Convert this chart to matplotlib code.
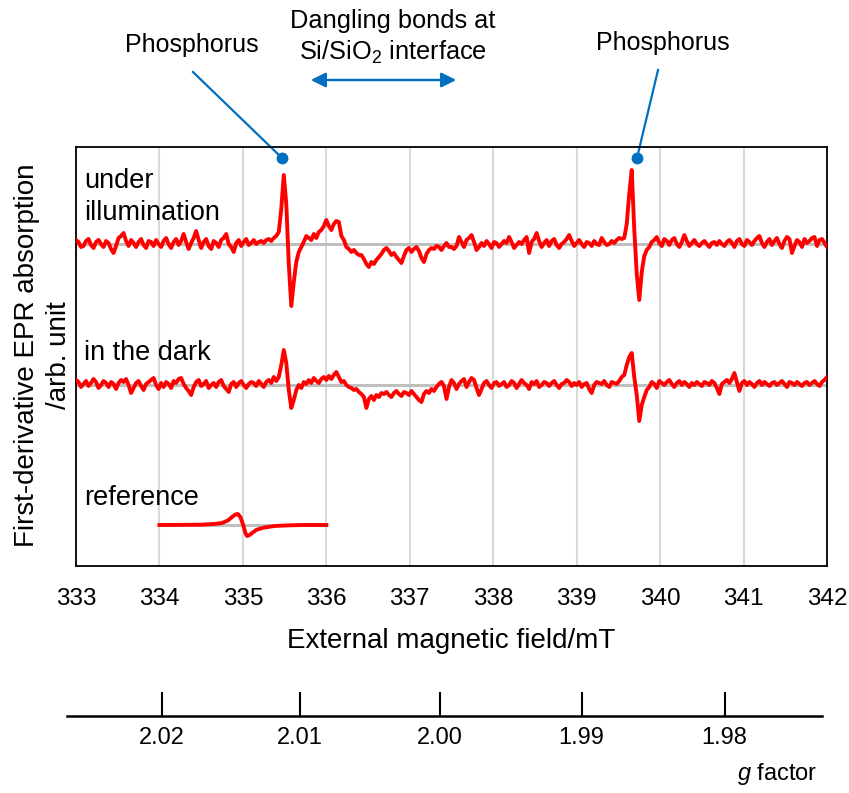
import numpy as np
import matplotlib.pyplot as plt
from matplotlib.patches import FancyArrowPatch

plt.rcParams['font.family'] = ['Liberation Sans', 'DejaVu Sans']
plt.rcParams['mathtext.fontset'] = 'custom'
plt.rcParams['mathtext.rm'] = 'Liberation Sans'
plt.rcParams['mathtext.it'] = 'Liberation Sans:italic'

# field grid of the spectra (mT), 0.03 mT steps
field = np.linspace(333, 342, 301)

# first-derivative signal, under illumination (arb. unit, baseline = 0)
illum = [
    4, 2, -3, -2, 3, 5, -1, -4, 2, 4, 0, -3, 3, 1, -5, -9, -2, 6, 8, 11,
    3, -2, 4, 1, -3, 2, 5, -1, -4, 3, 2, -2, 4, 0, -3, 3, 6, 0, -4, 2,
    5, -1, 3, 10, 2, -5, 1, 6, 13, 4, -4, 2, 5, -2, -5, 3, 1, -3, 4, 6,
    10, 0, -3, -8, 1, 4, -2, 2, 5, -1, 1, 4, 0, 2, 3, 1, 4, 5, 3, 6,
    8, 12, 35, 69, 40, -20, -62, -38, -18, -8, -3, 2, 8, 6, 4, 10, 6, 12, 14, 18,
    24, 18, 14, 20, 23, 22, 8, 4, -3, -5, -8, -6, -9, -11, -11, -15, -20, -23, -18, -20,
    -16, -13, -10, -6, -4, -7, -11, -9, -13, -16, -19, -12, -6, -4, -8, -5, -3, -7, -14, -18,
    -10, -6, -4, -5, -2, -3, -6, -2, 1, -3, -3, -5, -2, 7, 2, -3, 4, 6, 9, 2,
    -6, -3, 1, -2, 3, 0, -4, 2, 1, -3, 0, 3, 1, 7, 2, -4, -1, 2, 0, 4,
    7, -9, 2, 5, 11, 3, -3, 1, 4, -2, 3, 5, -1, -4, 0, 2, 5, 9, 3, -2,
    1, 4, 0, -3, 2, 1, -2, 3, 0, -1, 6, 2, -1, 0, 3, 1, 4, 6, 5, 6,
    20, 50, 74, 15, -30, -56, -28, -12, -6, -3, 2, 4, 7, 1, -2, 5, 3, -1, 4, 6,
    0, -3, 2, 9, 3, -2, 1, 4, 0, -2, 1, 3, 0, -3, 1, 2, -1, 3, 0, -2,
    2, 4, 1, -3, 3, 5, 0, -2, 4, 2, -1, 3, 6, 8, 1, -3, 2, 5, -1, 3,
    6, 0, -4, 3, 7, 5, -9, -2, 4, 2, -3, 5, 1, 3, 6, 7, -2, 4, 5, 1,
    -3,
]

# in the dark
dark = [
    5, 3, -2, 1, 4, -1, 2, 6, 3, -3, 0, 4, 2, -2, 3, 1, -4, 2, 5, 3,
    6, 0, -8, -3, 2, 4, -1, -5, 1, 3, 5, 7, 0, -4, 2, -2, 3, 1, -3, 4,
    2, 6, 7, 1, -3, -6, -10, -2, 3, 5, -1, 1, 4, -3, 0, 2, -2, 3, 5, -1,
    -4, -7, 1, 3, -2, 2, 4, 0, -3, 1, 3, 2, -1, 4, 1, -2, 3, 5, 2, 8,
    4, 8, 20, 35, 22, -5, -23, -15, -5, 0, -3, 3, 1, 5, 2, 7, 4, 2, 6, 8,
    5, 9, 6, 10, 13, 8, 3, 4, 0, -2, -3, -5, -4, -7, -9, -12, -23, -14, -11, -15,
    -10, -12, -8, -9, -7, -10, -12, -8, -6, -9, -11, -7, -8, -10, -6, -9, -12, -15, -17, -9,
    -6, -8, -4, -6, -2, 1, 3, -1, -14, -2, 5, 2, -4, 1, 4, 6, -2, 3, 7, 5,
    -3, -10, -4, 2, 4, 0, -3, 2, 3, -1, 1, 3, -2, 0, 4, 2, -3, 1, 5, 2,
    0, -4, 3, 1, 4, -2, 0, 3, 2, -1, 2, 4, 0, -3, 1, 2, 5, 3, -1, 2,
    0, 3, -2, 1, 2, -4, -8, 0, 3, 2, 1, 4, 0, -2, 3, 2, 1, 4, 8, 10,
    20, 28, 32, 8, -10, -36, -20, -12, -5, -2, 3, 1, -3, 4, 2, 0, 3, 5, 1, -2,
    2, 4, 0, 3, 1, -2, 2, 0, 3, 1, -1, 3, 2, 0, 4, 2, -3, -9, 1, 3,
    5, 2, 6, 12, 3, -6, 2, 4, 0, 3, 1, -2, 2, 4, 0, 3, 1, -1, 2, 3,
    0, 2, 4, 1, -2, 3, 2, 0, 3, 1, -1, 2, 3, 0, 2, 4, 1, -1, 3, 5,
    8,
]

# reference sample
ref_field = [334.0, 334.5, 334.65, 334.75, 334.82, 334.87, 334.91, 334.94, 334.97, 335.0,
             335.03, 335.05, 335.08, 335.11, 335.16, 335.23, 335.3, 335.38, 335.5, 335.7, 336.0]
ref = [0, 0.3, 1, 2, 4.5, 8, 10.5, 11, 8, 1,
       -8, -11, -10, -8, -5, -3, -2, -1, -0.5, 0, 0]

field_ticks = [333, 334, 335, 336, 337, 338, 339, 340, 341, 342]
g_ticks = [2.02, 2.01, 2.00, 1.99, 1.98]
h_nu_over_muB = 674.73  # mT, field = this / g

red = '#ff0000'
blue = '#0070c0'
off_illum, off_dark, off_ref = 322, 181, 41

fig = plt.figure(figsize=(8.49, 7.93), dpi=100)
ax = fig.add_axes([76/849, 1-566/793, 751/849, 419/793])

ax.set_xlim(333, 342)
ax.set_ylim(0, 419)
ax.set_xticks(field_ticks)
ax.set_xticklabels([str(t) for t in field_ticks], fontsize=17.5)
ax.set_yticks([])
ax.tick_params(axis='x', length=0, pad=16)
ax.grid(axis='x', color='#d9d9d9', lw=1.5)
for s in ax.spines.values():
    s.set_linewidth(1.3)

ax.axhline(off_illum, color='#bfbfbf', lw=2.2, zorder=2)
ax.axhline(off_dark, color='#bfbfbf', lw=2.2, zorder=2)
ax.plot([334, 336], [off_ref, off_ref], color='#bfbfbf', lw=2.2, zorder=2)

ax.plot(field, np.array(illum) + off_illum, color=red, lw=2.8, zorder=3)
ax.plot(field, np.array(dark) + off_dark, color=red, lw=2.8, zorder=3)
ax.plot(ref_field, np.array(ref) + off_ref, color=red, lw=2.8, zorder=3)

ax.text(333.10, 378, 'under', fontsize=19.5)
ax.text(333.10, 346, 'illumination', fontsize=19.5)
ax.text(333.10, 206, 'in the dark', fontsize=19.5)
ax.text(333.10, 61, 'reference', fontsize=19.5)

ax.set_xlabel('External magnetic field/mT', fontsize=20, labelpad=13)
fig.text(43/849, 1-355/793, 'First-derivative EPR absorption\n/arb. unit',
         rotation=90, ha='center', va='center', fontsize=20, linespacing=1.3)

# annotations above the frame
ax.plot([334.402, 335.469], [494, 408], color=blue, lw=1.6, clip_on=False)
ax.plot([339.975, 339.723], [496, 408], color=blue, lw=1.6, clip_on=False)
ax.plot([335.469, 339.723], [408, 408], 'o', color=blue, ms=7.5, clip_on=False)
ax.text(334.39, 514, 'Phosphorus', fontsize=18, ha='center')
ax.text(340.03, 516, 'Phosphorus', fontsize=18, ha='center')
ax.text(336.80, 538, 'Dangling bonds at', fontsize=18.3, ha='center')
ax.text(336.80, 506, 'Si/SiO$_2$ interface', fontsize=18.3, ha='center')
arr = FancyArrowPatch((335.78, 486), (337.59, 486), arrowstyle='<|-|>',
                      mutation_scale=22, color=blue, lw=1.8, clip_on=False)
ax.add_patch(arr)

# g factor axis
gax = fig.add_axes([67/849, 1-716/793, 755/849, 0.04])
gax.set_xlim(333 + (67-76)/83.44, 333 + (822-76)/83.44)
gax.set_ylim(0, 1)
for k in ['top', 'left', 'right']:
    gax.spines[k].set_visible(False)
gax.spines['bottom'].set_linewidth(1.8)
gax.set_yticks([])
gax.set_xticks([h_nu_over_muB / g for g in g_ticks])
gax.set_xticklabels(['%.2f' % g for g in g_ticks], fontsize=17)
gax.tick_params(axis='x', direction='in', length=17, width=1.5, pad=8)
gax.patch.set_visible(False)
fig.text(817/849, 1-780/793, '$\\it{g}$ factor', ha='right', va='baseline', fontsize=17)

fig.savefig('out.png', dpi=100)
